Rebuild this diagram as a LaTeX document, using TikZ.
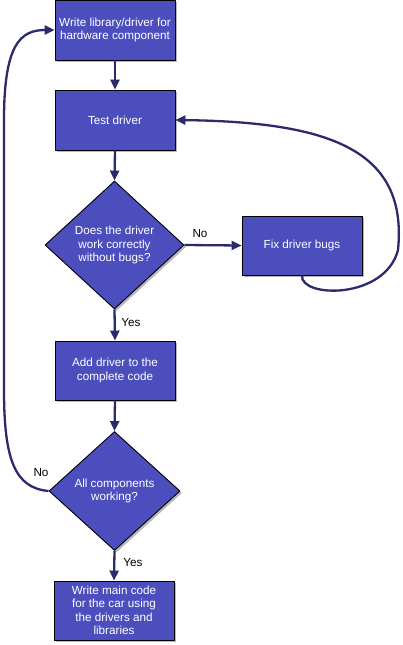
\documentclass[tikz,border=0pt]{standalone}
\usepackage{fontspec}
\setmainfont{Liberation Sans}
\usetikzlibrary{shapes.geometric,arrows.meta,shadows}
\definecolor{boxfill}{RGB}{76,78,190}
\definecolor{arrowcol}{RGB}{43,42,107}
\tikzset{
  shad/.style={drop shadow={shadow xshift=2pt,shadow yshift=-2pt,fill=black!28,opacity=1}},
  procbox/.style={rectangle,draw=black,line width=0.9pt,fill=boxfill,text=white,
    minimum width=120pt,minimum height=60pt,inner sep=0pt,align=center,shad,
    font=\fontsize{11.7}{13.5}\selectfont},
  decbox/.style={diamond,draw=black,line width=0.9pt,fill=boxfill,text=white,
    inner sep=0pt,align=center,shad,font=\fontsize{11.7}{13.5}\selectfont},
  conn/.style={draw=arrowcol,line width=2.3pt,-{Triangle[length=10pt,width=9pt]}},
  lbl/.style={font=\fontsize{11.7}{13.5}\selectfont,text=black,inner sep=0pt}
}
\begin{document}
\begin{tikzpicture}[x=1pt,y=-1pt]
\useasboundingbox (0,0) rectangle (403,645);
\fill[white] (0,0) rectangle (403,645);
\node[procbox] (b1) at (115,30) {Write library/driver for\\hardware component};
\node[procbox] (b2) at (115,120) {Test driver};
\node[decbox,minimum width=139pt,minimum height=128pt] (d1) at (114.5,245) {Does the driver\\work correctly\\without bugs?};
\node[procbox,minimum height=59pt] (fx) at (302,245.5) {Fix driver bugs};
\node[procbox,minimum height=59pt] (b3) at (115,370.5) {Add driver to the\\complete code};
\node[decbox,minimum width=131pt,minimum height=119pt] (d2) at (114.5,491) {All components\\working?};
\node[procbox,minimum height=59pt] (b5) at (114,610.5) {Write main code\\for the car using\\the drivers and\\libraries};

\draw[conn] (b1.south) -- (b2.north);
\draw[conn] (b2.south) -- (d1.north);
\draw[conn] (d1.east) -- (fx.west);
\draw[conn] (d1.south) -- (b3.north);
\draw[conn] (b3.south) -- (d2.north);
\draw[conn] (d2.south) -- (b5.north);
\draw[conn] (fx.south) .. controls (300,298) and (385,300) .. (398,250)
   .. controls (408,150) and (330,122) .. (b2.east);
\draw[conn] (d2.west) .. controls (15,488) and (4,460) .. (4,390)
   -- (4,120) .. controls (4,45) and (20,30) .. (b1.west);

\node[lbl] (no1) at (200,234) {No};
\node[lbl] (yes1) at (131,323) {Yes};
\node[lbl] (no2) at (41,473) {No};
\node[lbl] (yes2) at (133,563) {Yes};
\end{tikzpicture}
\end{document}
